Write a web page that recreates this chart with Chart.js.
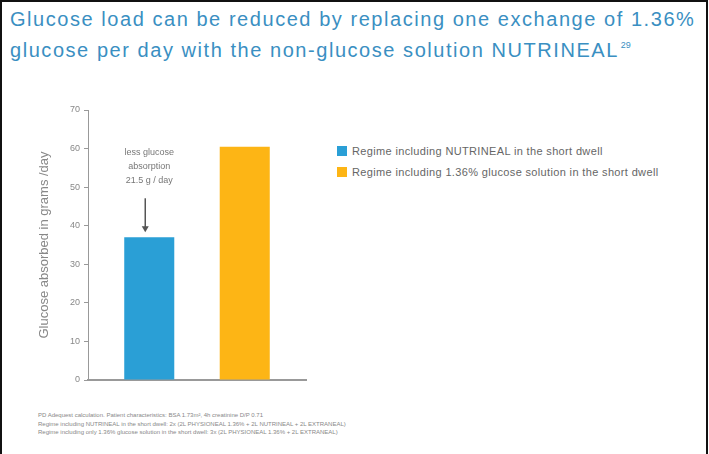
<!DOCTYPE html>
<html>
<head>
<meta charset="utf-8">
<script src="https://cdn.jsdelivr.net/npm/chart.js@4/dist/chart.umd.min.js"></script>
<style>
  html, body { margin: 0; padding: 0; background: #fff; }
  body { width: 709px; height: 454px; position: relative; overflow: hidden; font-family: "Liberation Sans", Arial, sans-serif; }
  #frame { position: absolute; left: 0; top: 0; width: 704px; height: 456px; border: 2px solid #111; border-bottom: none; }
  #title { position: absolute; left: 10px; top: 6px; font-size: 20px; line-height: 26px; letter-spacing: 1.55px; color: #3a8fc2; white-space: nowrap; }
  #title sup { font-size: 9px; vertical-align: 9px; margin-left: 2px; letter-spacing: 0; }
  #wrap { position: absolute; left: 30px; top: 95px; width: 280px; height: 300px; }
  #legend { position: absolute; left: 337px; top: 144px; font-size: 11px; letter-spacing: 0.35px; color: #666; }
  #legend div { height: 21px; line-height: 14px; white-space: nowrap; }
  #legend span.box { display: inline-block; width: 10px; height: 10px; margin-right: 5px; vertical-align: -1px; }
  #notes { position: absolute; left: 38px; top: 411px; font-size: 6px; line-height: 8.5px; color: #888; white-space: nowrap; }
</style>
</head>
<body>
<div id="frame"></div>
<div id="title">Glucose load can be reduced by replacing one exchange of 1.36%<br>glucose per day with the non-glucose solution NUTRINEAL<sup>29</sup></div>
<div id="wrap"><canvas id="myChart"></canvas></div>
<div id="legend"></div>
<div id="notes">
  PD Adequest calculation. Patient characteristics: BSA 1.73m², 4h creatinine D/P 0.71<br>
  Regime including NUTRINEAL in the short dwell: 2x (2L PHYSIONEAL 1.36% + 2L NUTRINEAL + 2L EXTRANEAL)<br>
  Regime including only 1.36% glucose solution in the short dwell: 3x (2L PHYSIONEAL 1.36% + 2L EXTRANEAL)
</div>
<script>
const categories = [''];
const seriesNames = [
    'Regime including NUTRINEAL in the short dwell',
    'Regime including 1.36% glucose solution in the short dwell'
];
const nutrinealValues = [37];
const glucoseValues = [60.5];
const seriesColors = ['#2a9fd6', '#fdb515'];
const annotationLines = ['less glucose', 'absorption', '21.5 g / day'];

// arrow + text above the first bar
const arrowPlugin = {
    id: 'arrowNote',
    afterDatasetsDraw(chart) {
        const bar = chart.getDatasetMeta(0).data[0];
        if (!bar) return;
        const ctx = chart.ctx;
        const x = bar.x - 4;
        const tip = bar.y - 5;
        const tail = tip - 34;
        ctx.save();
        ctx.strokeStyle = '#555';
        ctx.fillStyle = '#555';
        ctx.lineWidth = 1.5;
        ctx.beginPath();
        ctx.moveTo(x, tail);
        ctx.lineTo(x, tip - 5);
        ctx.stroke();
        ctx.beginPath();
        ctx.moveTo(x - 3.5, tip - 6);
        ctx.lineTo(x + 3.5, tip - 6);
        ctx.lineTo(x, tip);
        ctx.closePath();
        ctx.fill();

        ctx.fillStyle = '#777';
        ctx.font = '9px "Liberation Sans", Arial, sans-serif';
        ctx.textAlign = 'center';
        ctx.textBaseline = 'middle';
        annotationLines.forEach(function (line, i) {
            ctx.fillText(line, bar.x, tail - 46 + i * 14);
        });
        ctx.restore();
    }
};

const config = {
    type: 'bar',
    data: {
        labels: categories,
        datasets: [{
            label: seriesNames[0],
            data: nutrinealValues,
            backgroundColor: seriesColors[0]
        }, {
            label: seriesNames[1],
            data: glucoseValues,
            backgroundColor: seriesColors[1]
        }]
    },
    options: {
        responsive: false,
        animation: false,
        categoryPercentage: 0.876,
        barPercentage: 0.524,
        layout: {
            padding: { top: 15, bottom: 15, right: 4, left: 0 }
        },
        plugins: {
            legend: { display: false },
            tooltip: { enabled: false }
        },
        scales: {
            x: {
                ticks: { display: false },
                grid: { display: false, drawTicks: false },
                border: { color: '#999', width: 2 }
            },
            y: {
                min: 0,
                max: 70,
                afterFit: function (scale) { scale.width = 58; },
                ticks: {
                    stepSize: 10,
                    color: '#888',
                    padding: 4,
                    font: { size: 9, family: '"Liberation Sans", Arial, sans-serif' }
                },
                grid: { drawOnChartArea: false, tickLength: 4, color: '#999' },
                border: { color: '#999', width: 1 },
                title: {
                    display: true,
                    text: 'Glucose absorbed in grams /day',
                    color: '#888',
                    padding: { top: 7, bottom: 0 },
                    font: { size: 13, family: '"Liberation Sans", Arial, sans-serif' }
                }
            }
        }
    },
    plugins: [arrowPlugin]
};

(function () {
    const canvas = document.getElementById('myChart');
    canvas.width = 280;
    canvas.height = 300;
    const myChart = new Chart(canvas, config);

    // html legend built from the datasets
    const legend = document.getElementById('legend');
    myChart.data.datasets.forEach(function (ds) {
        const row = document.createElement('div');
        const box = document.createElement('span');
        box.className = 'box';
        box.style.background = ds.backgroundColor;
        row.appendChild(box);
        row.appendChild(document.createTextNode(ds.label));
        legend.appendChild(row);
    });
})();
</script>
</body>
</html>
